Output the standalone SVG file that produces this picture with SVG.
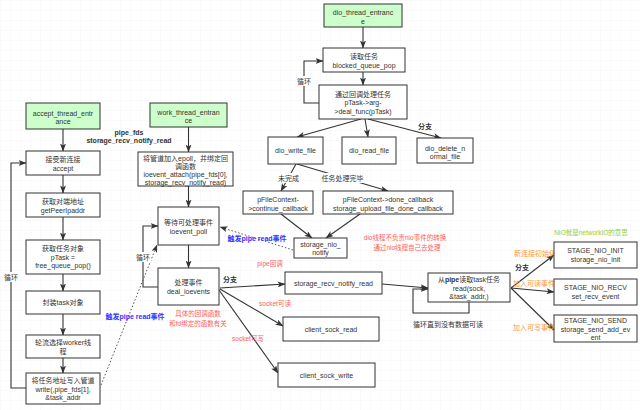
<svg xmlns="http://www.w3.org/2000/svg" width="640" height="410" viewBox="0 0 640 410">
<defs>
<pattern id="grid" width="10" height="10" patternUnits="userSpaceOnUse">
<path d="M10 0 H0 V10" fill="none" stroke="#efefef" stroke-width="0.6"/>
</pattern>
<marker id="arr" markerWidth="8" markerHeight="6" refX="7.5" refY="3" orient="auto" markerUnits="userSpaceOnUse">
<path d="M0,0 L8,3 L0,6 L2,3 z" fill="#333"/>
</marker>
<style>
.box{fill:#fff;stroke:#333;stroke-width:1}
.green{fill:#ccffcc;stroke:#333;stroke-width:1}
.t{font-family:"Liberation Sans","Noto Sans CJK SC",sans-serif;font-size:7px;fill:#333;text-anchor:middle}
.b{font-weight:bold}
.c{fill:none;stroke:#333;stroke-width:1.1;marker-end:url(#arr)}
.p{fill:none;stroke:#333;stroke-width:1.1}
.d{fill:none;stroke:#555;stroke-width:1;stroke-dasharray:1.5,2;marker-end:url(#arr)}
.red{fill:#ff5c5c;font-size:6.5px}
.org{fill:#ff9933}
.blue{fill:#3333ff;font-weight:bold}
.lg{fill:#99cc33;font-size:6.5px}
.bg{fill:#fff}
</style>
</defs>
<rect width="640" height="410" fill="#fff"/>
<rect width="640" height="410" fill="url(#grid)"/>

<g id="connectors">
<path class="c" d="M63 129 V151"/>
<path class="c" d="M63 175 V193"/>
<path class="c" d="M63 217 V240"/>
<path class="c" d="M63 274 V291"/>
<path class="c" d="M63 314 V335"/>
<path class="c" d="M63 358 V373"/>
<path class="c" d="M26 388 H11 V163 H26"/>
<path class="c" d="M188.5 127 V152"/>
<path class="c" d="M188.5 186 V207"/>
<path class="c" d="M188.5 245 V268"/>
<path class="c" d="M158 287 H143 V226 H158"/>
<path class="d" d="M101 385 L157 245"/>
<path class="d" d="M293 250 L220 227"/>
<path class="c" d="M363 27 V48"/>
<path class="c" d="M363 72 V85"/>
<path class="c" d="M319 103 H304 V61 H323"/>
<path class="c" d="M361 119 L297 137"/>
<path class="c" d="M365 119 L368 137"/>
<path class="c" d="M368 119 L441 138"/>
<path class="c" d="M296 164 L281 191"/>
<path class="c" d="M297 164 L388 191"/>
<path class="c" d="M281 214 L312 238"/>
<path class="c" d="M360 214 L326 238"/>
<path class="c" d="M220 288 L285 284"/>
<path class="c" d="M220 289 L283 326"/>
<path class="c" d="M219 290 L278 373"/>
<path class="c" d="M382 284 L428 288"/>
<path class="c" d="M469 302 V313 H413 V289 H428"/>
<path class="c" d="M511 288 L554 255"/>
<path class="c" d="M511 288 L554 292"/>
<path class="c" d="M511 288 L554 330"/>
</g>

<g id="labels">
<rect class="bg" x="3" y="272" width="16" height="10"/>
<text class="t" x="11" y="279.5">循环</text>
<rect class="bg" x="135" y="252" width="16" height="10"/>
<text class="t" x="143" y="259.5">循环</text>
<rect class="bg" x="296" y="76" width="16" height="10"/>
<text class="t" x="304" y="83.5">循环</text>
<text class="t b" x="129" y="134.5">pipe_fds</text>
<text class="t b" x="129" y="142.5">storage_recv_notify_read</text>
<text class="t blue" x="135" y="318.5">触发pipe read事件</text>
<text class="t blue" x="257" y="240.5">触发pipe read事件</text>
<text class="t b" x="425" y="128.5">分支</text>
<rect class="bg" x="277" y="173" width="23" height="10"/>
<text class="t" x="288.5" y="180.5">未完成</text>
<rect class="bg" x="321" y="173" width="43" height="10"/>
<text class="t" x="342.5" y="180.5">任务处理完毕</text>
<text class="t red" x="405" y="239.5">dio线程不负责nio事件的转换</text>
<text class="t red" x="407" y="249.5">通过nio线程自己去处理</text>
<text class="t b" x="230" y="281.5">分支</text>
<text class="t red" x="270" y="265.5">pipe回调</text>
<text class="t red" x="275" y="305.5">socket可读</text>
<text class="t red" x="248" y="340.5">socket可写</text>
<text class="t red" x="198" y="316">具体的回调函数</text>
<text class="t red" x="198" y="325.5">和fd绑定的函数有关</text>
<text class="t" x="448" y="326.5">循环直到没有数据可读</text>
<text class="t org" x="535" y="255.5">新连接初始化</text>
<text class="t org" x="534" y="285.5">加入可读事件</text>
<text class="t org" x="534" y="329.5">加入可写事件</text>
<text class="t b" x="522" y="269.5">分支</text>
<text class="t lg" x="591" y="235">NIO就是networkIO的意思</text>
</g>

<g id="accept_thread_entrance">
<rect class="green" x="26" y="103" width="74" height="26"/>
<text class="t" x="63" y="115.5">accept_thread_entr</text>
<text class="t" x="63" y="124">ance</text>
</g>
<g id="accept">
<rect class="box" x="26" y="151" width="74" height="24"/>
<text class="t" x="63" y="161.5">接受新连接</text>
<text class="t" x="63" y="170.5">accept</text>
</g>
<g id="getPeerIpaddr">
<rect class="box" x="26" y="193" width="74" height="24"/>
<text class="t" x="63" y="203.5">获取对端地址</text>
<text class="t" x="63" y="212.5">getPeerIpaddr</text>
</g>
<g id="free_queue_pop">
<rect class="box" x="26" y="240" width="74" height="34"/>
<text class="t" x="63" y="251">获取任务对象</text>
<text class="t" x="63" y="259.5">pTask =</text>
<text class="t" x="63" y="268">free_queue_pop()</text>
</g>
<g id="wrap_task">
<rect class="box" x="26" y="291" width="74" height="23"/>
<text class="t" x="63" y="305">封装task对象</text>
</g>
<g id="select_worker">
<rect class="box" x="26" y="335" width="74" height="23"/>
<text class="t" x="63" y="345">轮流选择worker线</text>
<text class="t" x="63" y="354">程</text>
</g>
<g id="write_pipe">
<rect class="box" x="26" y="373" width="74" height="31"/>
<text class="t" x="63" y="382.5">将任务地址写入管道</text>
<text class="t" x="63" y="391.5">write(,pipe_fds[1],</text>
<text class="t" x="63" y="400">&amp;task_addr</text>
</g>

<g id="work_thread_entrance">
<rect class="green" x="150" y="103" width="77" height="24"/>
<text class="t" x="188.5" y="114.5">work_thread_entran</text>
<text class="t" x="188.5" y="123">ce</text>
</g>
<g id="ioevent_attach">
<rect class="box" x="138" y="152" width="95" height="34"/>
<text class="t" x="185.5" y="160.5">将管道加入epoll，并绑定回</text>
<text class="t" x="185.5" y="168.5">调函数</text>
<text class="t" x="185.5" y="176.5">ioevent_attach(pipe_fds[0],</text>
<text class="t" x="185.5" y="184.5">storage_recv_notify_read)</text>
</g>
<g id="ioevent_poll">
<rect class="box" x="158" y="207" width="61" height="38"/>
<text class="t" x="188.5" y="225">等待可处理事件</text>
<text class="t" x="188.5" y="233.5">ioevent_poll</text>
</g>
<g id="deal_ioevents">
<rect class="box" x="158" y="268" width="61" height="37"/>
<text class="t" x="188.5" y="284.5">处理事件</text>
<text class="t" x="188.5" y="293.5">deal_ioevents</text>
</g>

<g id="dio_thread_entrance">
<rect class="green" x="324" y="4" width="78" height="23"/>
<text class="t" x="363" y="15">dio_thread_entranc</text>
<text class="t" x="363" y="23.5">e</text>
</g>
<g id="blocked_queue_pop">
<rect class="box" x="323" y="48" width="82" height="24"/>
<text class="t" x="364" y="59">读取任务</text>
<text class="t" x="364" y="68">blocked_queue_pop</text>
</g>
<g id="deal_func">
<rect class="box" x="319" y="85" width="88" height="34"/>
<text class="t" x="363" y="96.5">通过回调处理任务</text>
<text class="t" x="363" y="105">pTask-&gt;arg-</text>
<text class="t" x="363" y="113.5">&gt;deal_func(pTask)</text>
</g>
<g id="dio_write_file">
<rect class="box" x="268" y="137" width="55" height="27"/>
<text class="t" x="295.5" y="153">dio_write_file</text>
</g>
<g id="dio_read_file">
<rect class="box" x="342" y="137" width="54" height="27"/>
<text class="t" x="369" y="153">dio_read_file</text>
</g>
<g id="dio_delete_normal_file">
<rect class="box" x="417" y="138" width="56" height="25"/>
<text class="t" x="445" y="150.5">dio_delete_n</text>
<text class="t" x="445" y="158.5">ormal_file</text>
</g>
<g id="continue_callback">
<rect class="box" x="243" y="191" width="70" height="23"/>
<text class="t" x="278" y="201.5">pFileContext-</text>
<text class="t" x="278" y="210.5">&gt;continue_callback</text>
</g>
<g id="done_callback">
<rect class="box" x="323" y="191" width="130" height="23"/>
<text class="t" x="388" y="202">pFileContext-&gt;done_callback</text>
<text class="t" x="388" y="210.5">storage_upload_file_done_callback</text>
</g>
<g id="storage_nio_notify">
<rect class="box" x="294" y="238" width="53" height="20"/>
<text class="t" x="320.5" y="246.5">storage_nio_</text>
<text class="t" x="320.5" y="255">notify</text>
</g>

<g id="storage_recv_notify_read">
<rect class="box" x="285" y="272" width="97" height="22"/>
<text class="t" x="333.5" y="285.5">storage_recv_notify_read</text>
</g>
<g id="client_sock_read">
<rect class="box" x="283" y="317" width="96" height="24"/>
<text class="t" x="331" y="331.5">client_sock_read</text>
</g>
<g id="client_sock_write">
<rect class="box" x="278" y="363" width="97" height="24"/>
<text class="t" x="326.5" y="377.5">client_sock_write</text>
</g>
<g id="read_task">
<rect class="box" x="428" y="273" width="82" height="29"/>
<text class="t" x="469" y="282">从<tspan class="b">pipe</tspan>读取task任务</text>
<text class="t" x="469" y="290.5">read(sock,</text>
<text class="t" x="469" y="298.5">&amp;task_addr,)</text>
</g>
<g id="stage_nio_init">
<rect class="box" x="554" y="242" width="83" height="26"/>
<text class="t" x="595.5" y="253">STAGE_NIO_INIT</text>
<text class="t" x="595.5" y="261.5">storage_nio_init</text>
</g>
<g id="stage_nio_recv">
<rect class="box" x="554" y="279" width="83" height="26"/>
<text class="t" x="595.5" y="289.5">STAGE_NIO_RECV</text>
<text class="t" x="595.5" y="298.5">set_recv_event</text>
</g>
<g id="stage_nio_send">
<rect class="box" x="554" y="315" width="83" height="27"/>
<text class="t" x="595.5" y="322.5">STAGE_NIO_SEND</text>
<text class="t" x="595.5" y="331.5">storage_send_add_ev</text>
<text class="t" x="595.5" y="339.5">ent</text>
</g>
</svg>
